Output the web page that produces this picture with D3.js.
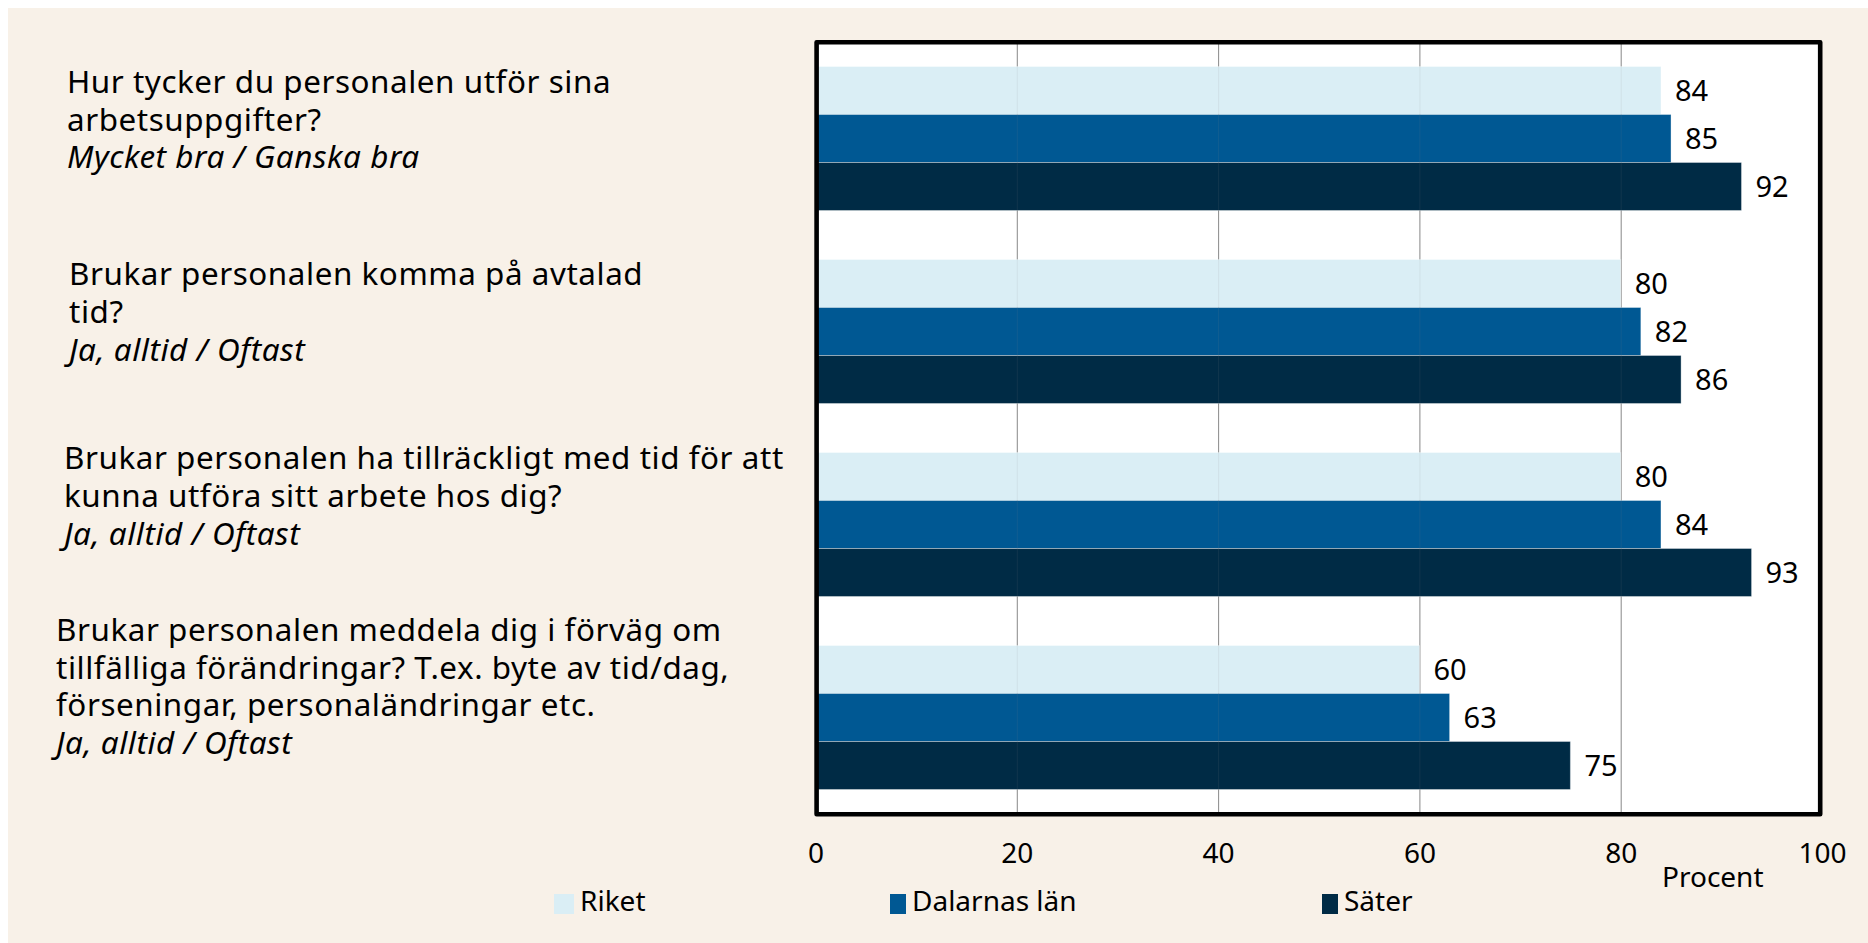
<!DOCTYPE html>
<html>
<head>
<meta charset="utf-8">
<script src="https://cdn.jsdelivr.net/npm/d3@7"></script>
<style>
  html, body { margin: 0; padding: 0; background: #ffffff; }
  svg { display: block; }
  text { font-family: "Noto Sans", "Open Sans", sans-serif; fill: #000; }
</style>
</head>
<body>
<svg id="chart" width="1868" height="943"></svg>
<script>
// ---- data ----
const categories = [
  "Hur tycker du personalen utför sina arbetsuppgifter?",
  "Brukar personalen komma på avtalad tid?",
  "Brukar personalen ha tillräckligt med tid för att kunna utföra sitt arbete hos dig?",
  "Brukar personalen meddela dig i förväg om tillfälliga förändringar? T.ex. byte av tid/dag, förseningar, personaländringar etc."
];
const categoryLines = [
  ["Hur tycker du personalen utför sina", "arbetsuppgifter?"],
  ["Brukar personalen komma på avtalad", "tid?"],
  ["Brukar personalen ha tillräckligt med tid för att", "kunna utföra sitt arbete hos dig?"],
  ["Brukar personalen meddela dig i förväg om", "tillfälliga förändringar? T.ex. byte av tid/dag,", "förseningar, personaländringar etc."]
];
const categorySubtitles = [
  "Mycket bra / Ganska bra",
  "Ja, alltid / Oftast",
  "Ja, alltid / Oftast",
  "Ja, alltid / Oftast"
];
const seriesNames = ["Riket", "Dalarnas län", "Säter"];
const riket = [84, 80, 80, 60];
const dalarna = [85, 82, 84, 63];
const sater = [92, 86, 93, 75];
const xTicks = [0, 20, 40, 60, 80, 100];
const axisTitle = "Procent";

// ---- layout / style ----
const colors = ["#DAEEF5", "#005893", "#002B45"];
const labelX = [67, 69, 64, 56];
const labelDy = [50.7, 50, 41.3, 19.7];
const legendX = [554, 890, 1322];
const legendSwatchW = [20, 16, 16];

const seriesValues = [riket, dalarna, sater];
const table = categories.map((c, i) => ({
  cat: c,
  values: seriesNames.map((s, j) => ({ series: s, value: seriesValues[j][i], idx: j }))
}));

const svg = d3.select("#chart");

// background panel
svg.append("rect").attr("x", 8).attr("y", 8).attr("width", 1860).attr("height", 935).attr("fill", "#F8F1E8");

const plot = { left: 815.5, right: 1822, top: 42, bottom: 814 };

const x = d3.scaleLinear().domain([0, 100]).range([plot.left, plot.right]);
const y0 = d3.scaleBand().domain(categories).range([plot.top, plot.bottom]).paddingInner(0.254).paddingOuter(0.127);
const y1 = d3.scaleBand().domain(seriesNames).range([0, y0.bandwidth()]);

// plot background
svg.append("rect")
  .attr("x", plot.left + 1).attr("y", plot.top)
  .attr("width", 1820 - plot.left - 1).attr("height", plot.bottom - plot.top)
  .attr("fill", "#ffffff");

// gridlines
const gridG = svg.append("g");
gridG.selectAll("line").data(xTicks.filter(t => t > 0 && t < 100)).join("line")
  .attr("x1", d => x(d) + 0.5).attr("x2", d => x(d) + 0.5)
  .attr("y1", plot.top).attr("y2", plot.bottom)
  .attr("stroke", "#8e8e8e").attr("stroke-width", 1);

// bars
const groups = svg.append("g").selectAll("g").data(table).join("g")
  .attr("transform", d => `translate(0,${y0(d.cat)})`);

groups.selectAll("rect").data(d => d.values).join("rect")
  .attr("x", x(0))
  .attr("y", d => y1(d.series))
  .attr("width", d => x(d.value) - x(0))
  .attr("height", y1.bandwidth())
  .attr("fill", d => colors[d.idx])
  .attr("stroke", "#ffffff").attr("stroke-opacity", 0.35).attr("stroke-width", 1);

groups.selectAll("text").data(d => d.values).join("text")
  .attr("x", d => x(d.value) + 14)
  .attr("y", d => y1(d.series) + y1.bandwidth() / 2 + 10.5)
  .attr("font-size", 29)
  .text(d => d.value);

// faint gridlines visible over bars
svg.append("g").selectAll("line").data(xTicks.filter(t => t > 0 && t < 100)).join("line")
  .attr("x1", d => x(d) + 0.5).attr("x2", d => x(d) + 0.5)
  .attr("y1", plot.top).attr("y2", plot.bottom)
  .attr("stroke", "#8e8e8e").attr("stroke-opacity", 0.12).attr("stroke-width", 1);

// frame
svg.append("rect")
  .attr("x", 816.6).attr("y", 42.2)
  .attr("width", 1820.2 - 816.6).attr("height", 814.2 - 42.2)
  .attr("fill", "none").attr("stroke", "#000").attr("stroke-width", 4.6)
  .attr("stroke-linejoin", "round");

// x axis (labels only)
const xAxis = d3.axisBottom(x).tickValues(xTicks).tickSize(0).tickPadding(0);
const axG = svg.append("g").attr("transform", `translate(0,${plot.bottom})`).call(xAxis);
axG.select(".domain").remove();
axG.selectAll(".tick text")
  .attr("dy", null).attr("y", 49)
  .attr("font-size", 28)
  .attr("font-family", '"Noto Sans", sans-serif')
  .attr("fill", "#000");

svg.append("text").attr("x", 1662).attr("y", 887).attr("font-size", 28).text(axisTitle);

// category labels
const lab = svg.append("g").selectAll("text").data(table).join("text")
  .attr("font-size", 31.4)
  .attr("letter-spacing", 0.55)
  .attr("x", (d, i) => labelX[i])
  .attr("y", (d, i) => y0(d.cat) - y0.paddingOuter() * y0.step() + labelDy[i]);
lab.each(function(d, i) {
  const t = d3.select(this);
  categoryLines[i].forEach((line, k) => {
    t.append("tspan").attr("x", labelX[i]).attr("dy", k === 0 ? 0 : 37.8).text(line);
  });
  t.append("tspan").attr("x", labelX[i]).attr("dy", 37.8).attr("font-style", "italic").text(categorySubtitles[i]);
});

// legend
const leg = svg.append("g").selectAll("g").data(seriesNames).join("g");
leg.append("rect")
  .attr("x", (d, i) => legendX[i]).attr("y", 894)
  .attr("width", (d, i) => legendSwatchW[i]).attr("height", 20)
  .attr("fill", (d, i) => colors[i]);
leg.append("text")
  .attr("x", (d, i) => legendX[i] + legendSwatchW[i] + 6)
  .attr("y", 911)
  .attr("font-size", 28)
  .text(d => d);
</script>
</body>
</html>
